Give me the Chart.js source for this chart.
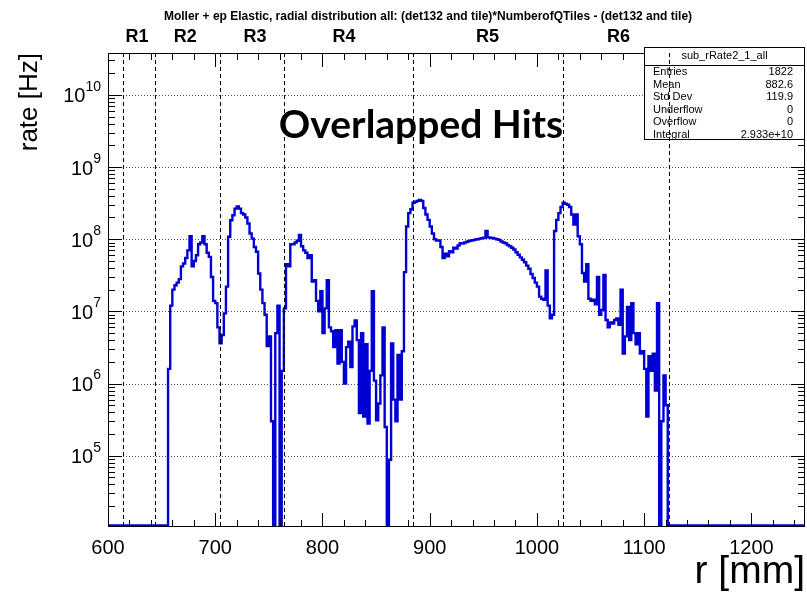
<!DOCTYPE html>
<html>
<head>
<meta charset="utf-8">
<script src="https://cdn.jsdelivr.net/npm/chart.js@4.4.1/dist/chart.umd.min.js"></script>
<style>
  html, body { margin: 0; padding: 0; background: #fff; }
</style>
</head>
<body>
<canvas id="c" width="807" height="592"></canvas>
<script>
// radial rate histogram, 2 mm bins, first filled bin starts at 656 mm
const R_MIN = 600, R_MAX = 1250;
const FIRST_BIN = 656, BIN_W = 2;
const Y_MIN = 1.03e4, Y_MAX = 3.8e10;
const ZERO_LEVEL = 1.08e4; // empty bins sit on the bottom of the frame

// bin contents [Hz], one array per ring
const rateR2 = [1.6e6, 1.2e7, 2.0e7, 2.3e7, 2.5e7, 2.8e7, 4.2e7, 4.6e7, 5.5e7, 7.0e7,
  1.1e8, 4.2e7, 5.0e7, 6.0e7, 8.5e7, 9.0e7, 1.1e8, 8.5e7, 6.5e7, 5.7e7,
  3.0e7, 1.4e7, 1.3e7, 6.0e6];
const rateR3 = [3.6e6, 4.7e6, 9.4e6, 2.2e7, 1.08e8, 1.83e8, 2.15e8, 2.65e8, 2.85e8, 2.65e8,
  2.3e8, 2.2e8, 2.0e8, 1.65e8, 1.2e8, 1.02e8, 7.8e7, 6.7e7, 3.35e7, 2.0e7,
  1.3e7, 9.0e6, 3.3e6, 4.5e6, 3.0e5, 0, 5.0e6, 1.2e7, 0, 1.5e6];
const rateR4 = [1.1e7, 4.5e7, 4.2e7, 8.5e7, 8.5e7, 9.0e7, 9.5e7, 1.15e8, 8.0e7, 7.0e7,
  6.5e7, 5.5e7, 6.0e7, 2.6e7, 2.7e7, 1.4e7, 1.0e7, 1.9e7, 5.0e6, 1.1e7,
  2.7e7, 6.0e6, 5.3e6, 3.2e6, 5.5e6, 1.9e6, 5.5e6, 2.0e6, 1.0e6, 3.2e6,
  3.8e6, 1.7e6, 6.2e6, 7.5e6, 4.0e6, 3.9e5, 5.0e6, 3.5e5, 3.5e6, 2.8e5,
  1.5e6, 1.9e7, 1.1e6, 3.1e5, 5.3e5, 1.3e6, 6.0e6, 2.5e5, 0, 8.8e4,
  3.6e6, 6.0e5, 3.0e5, 2.5e6, 6.0e5, 2.8e6, 3.5e7, 1.5e8, 2.3e8, 2.6e8];
const rateR5 = [3.2e8, 3.3e8, 3.4e8, 3.5e8, 3.4e8, 2.7e8, 2.2e8, 1.85e8, 1.5e8, 1.2e8,
  1.0e8, 9.6e7, 9.6e7, 7.8e7, 5.5e7, 6.3e7, 5.8e7, 6.8e7, 6.6e7, 7.6e7,
  7.4e7, 8.2e7, 8.8e7, 8.7e7, 9.0e7, 9.2e7, 9.4e7, 9.6e7, 9.7e7, 9.9e7,
  1.0e8, 1.02e8, 1.03e8, 1.05e8, 1.3e8, 1.06e8, 1.05e8, 1.04e8, 1.02e8, 1.0e8,
  9.8e7, 9.3e7, 9.0e7, 8.8e7, 8.3e7, 8.0e7, 7.6e7, 7.2e7, 6.6e7, 6.1e7,
  5.6e7, 5.2e7, 4.8e7, 4.3e7, 3.9e7, 3.3e7, 2.9e7, 2.5e7, 2.2e7, 1.6e7,
  1.5e7, 1.45e7, 3.7e7, 1.2e7, 8.0e6, 9.0e6, 1.3e8, 1.85e8, 2.3e8, 2.8e8];
const rateR6 = [3.2e8, 3.1e8, 3.0e8, 2.8e8, 2.2e8, 1.6e8, 2.2e8, 1.1e8, 8.5e7, 3.4e7,
  2.6e7, 4.5e7, 1.5e7, 1.4e7, 1.45e7, 1.25e7, 3.0e7, 9.0e6, 1.05e7, 3.2e7,
  7.6e6, 6.0e6, 7.0e6, 6.8e6, 7.6e6, 8.0e6, 6.5e6, 2.0e7, 2.6e6, 4.5e6,
  1.15e7, 4.0e6, 1.3e7, 5.0e6, 3.5e6, 5.0e6, 2.6e6, 2.8e6, 1.6e6, 3.5e5,
  2.4e6, 1.5e6, 2.6e6, 8.0e5, 1.3e7, 0, 3.0e5, 1.3e6, 5.0e5];

// ring boundaries (dashed lines) and ring labels, in mm
const ringEdges = [614, 644, 704, 764, 884, 1024, 1123];
const ringNames = ['R1', 'R2', 'R3', 'R4', 'R5', 'R6'];
const ringNamePos = [627, 672, 737, 820, 954, 1076];

const yPowers = [5, 6, 7, 8, 9, 10];
const statsTitle = 'sub_rRate2_1_all';
const statsNames = ['Entries', 'Mean', 'Std Dev', 'Underflow', 'Overflow', 'Integral'];
const statsValues = ['1822', '882.6', '119.9', '0', '0', '2.933e+10'];

const titleText = 'Moller + ep Elastic, radial distribution all: (det132 and tile)*NumberofQTiles - (det132 and tile)';

// build the step outline of the histogram
const allRates = [...rateR2, ...rateR3, ...rateR4, ...rateR5, ...rateR6];
const histPoints = [{x: R_MIN, y: ZERO_LEVEL}, {x: FIRST_BIN, y: ZERO_LEVEL}];
allRates.forEach((v, i) => {
  const lo = FIRST_BIN + i * BIN_W;
  const y = v > 0 ? v : Y_MIN;
  histPoints.push({x: lo, y: y}, {x: lo + BIN_W, y: y});
});
const lastEdge = FIRST_BIN + allRates.length * BIN_W;
histPoints.push({x: lastEdge, y: Y_MIN}, {x: lastEdge, y: ZERO_LEVEL}, {x: R_MAX, y: ZERO_LEVEL});

const FONT = '"Liberation Sans", Arial, Helvetica, sans-serif';

const rootStyle = {
  id: 'rootStyle',
  beforeDatasetsDraw(chart) {
    const {ctx, chartArea: a, scales: {y}} = chart;
    ctx.save();
    ctx.strokeStyle = 'rgba(60,60,60,0.9)';
    ctx.lineWidth = 1;
    ctx.setLineDash([1, 2]);
    yPowers.forEach(p => {
      const py = Math.round(y.getPixelForValue(Math.pow(10, p))) + 0.5;
      ctx.beginPath();
      ctx.moveTo(a.left, py);
      ctx.lineTo(a.right, py);
      ctx.stroke();
    });
    ctx.restore();
  },
  afterDatasetsDraw(chart) {
    const {ctx, chartArea: a, scales: {x, y}} = chart;
    ctx.save();

    // frame
    ctx.strokeStyle = '#000';
    ctx.lineWidth = 1;
    ctx.strokeRect(a.left + 0.5, a.top + 0.5, a.right - a.left - 1, a.bottom - a.top - 1);

    // x ticks, bottom and top
    ctx.beginPath();
    for (let r = R_MIN; r <= R_MAX; r += 20) {
      const px = Math.round(x.getPixelForValue(r)) + 0.5;
      const len = r % 100 === 0 ? 14 : 7;
      ctx.moveTo(px, a.bottom);
      ctx.lineTo(px, a.bottom - len);
      ctx.moveTo(px, a.top);
      ctx.lineTo(px, a.top + len);
    }
    // y ticks, left and right
    for (let p = 4; p <= 10; p++) {
      for (let m = 1; m <= 9; m++) {
        const v = m * Math.pow(10, p);
        if (v < Y_MIN || v > Y_MAX) continue;
        const py = Math.round(y.getPixelForValue(v)) + 0.5;
        const len = m === 1 ? 14 : 7;
        ctx.moveTo(a.left, py);
        ctx.lineTo(a.left + len, py);
        ctx.moveTo(a.right, py);
        ctx.lineTo(a.right - len, py);
      }
    }
    ctx.stroke();

    // y tick labels 10^n
    ctx.fillStyle = '#000';
    yPowers.forEach(p => {
      const py = y.getPixelForValue(Math.pow(10, p));
      const ex = String(p);
      ctx.font = '14px ' + FONT;
      const ew = ctx.measureText(ex).width;
      ctx.textAlign = 'left';
      ctx.textBaseline = 'middle';
      ctx.fillText(ex, 101 - ew, py - 8);
      ctx.font = '20px ' + FONT;
      ctx.textAlign = 'right';
      ctx.fillText('10', 101 - ew, py + 2);
    });

    // stats box
    const bx = 644, by = 47, bw = 161, bh = 93;
    ctx.fillStyle = '#fff';
    ctx.fillRect(bx, by, bw, bh);
    ctx.strokeStyle = '#000';
    ctx.lineWidth = 1;
    ctx.strokeRect(bx + 0.5, by + 0.5, bw - 1, bh - 1);
    ctx.beginPath();
    ctx.moveTo(bx, by + 18.5);
    ctx.lineTo(bx + bw, by + 18.5);
    ctx.stroke();
    ctx.fillStyle = '#000';
    ctx.font = '11px ' + FONT;
    ctx.textBaseline = 'middle';
    ctx.textAlign = 'center';
    ctx.fillText(statsTitle, bx + bw / 2, by + 9);
    statsNames.forEach((n, i) => {
      const ty = by + 25 + i * 12.5;
      ctx.textAlign = 'left';
      ctx.fillText(n, bx + 9, ty);
      ctx.textAlign = 'right';
      ctx.fillText(statsValues[i], bx + bw - 12, ty);
    });

    // ring boundaries
    ctx.strokeStyle = '#000';
    ctx.setLineDash([4, 3]);
    ringEdges.forEach(r => {
      const px = Math.round(x.getPixelForValue(r)) + 0.5;
      ctx.beginPath();
      ctx.moveTo(px, a.top);
      ctx.lineTo(px, a.bottom);
      ctx.stroke();
    });
    ctx.setLineDash([]);

    // ring names
    ctx.font = 'bold 18px ' + FONT;
    ctx.textAlign = 'center';
    ctx.textBaseline = 'middle';
    ringNames.forEach((n, i) => {
      ctx.fillText(n, x.getPixelForValue(ringNamePos[i]), 37);
    });

    // annotation
    ctx.font = 'bold 39px Lato, "Open Sans", sans-serif';
    ctx.textAlign = 'center';
    ctx.fillText('Overlapped Hits', 421, 125);

    // title, squeezed to the original width
    ctx.font = 'bold 12px ' + FONT;
    const tw = ctx.measureText(titleText).width;
    const target = 559;
    ctx.translate(428, 17);
    ctx.scale(Math.min(1, target / tw), 1);
    ctx.textAlign = 'center';
    ctx.fillText(titleText, 0, 0);
    ctx.restore();
  }
};

new Chart(document.getElementById('c'), {
  type: 'line',
  data: {
    datasets: [{
      data: histPoints,
      borderColor: '#0000d2',
      borderWidth: 2.4,
      pointRadius: 0,
      fill: false,
      tension: 0
    }]
  },
  options: {
    responsive: false,
    animation: false,
    devicePixelRatio: 1,
    layout: {padding: {top: 53, right: 2, left: 0, bottom: 0}},
    plugins: {legend: {display: false}, tooltip: {enabled: false}},
    scales: {
      x: {
        type: 'linear',
        min: R_MIN,
        max: R_MAX,
        grid: {display: false, drawTicks: false},
        border: {display: false},
        ticks: {
          stepSize: 100, includeBounds: false, padding: 9, color: '#000', maxRotation: 0, autoSkip: false,
          font: {size: 20, family: FONT},
          callback: v => (v % 100 === 0 ? String(v) : '')
        },
        title: {display: true, text: 'r [mm]', align: 'end', color: '#000', font: {size: 39, family: FONT, lineHeight: 1}, padding: {top: 0, bottom: 0}},
        afterFit(scale) { scale.height = 65; scale.paddingRight = 0; }
      },
      y: {
        type: 'logarithmic',
        min: Y_MIN,
        max: Y_MAX,
        grid: {display: false, drawTicks: false},
        border: {display: false},
        ticks: {display: false},
        title: {display: true, text: 'rate [Hz]', align: 'end', color: '#000', font: {size: 26, family: FONT}, padding: {top: 14, bottom: 0}},
        afterFit(scale) { scale.width = 108; }
      }
    }
  },
  plugins: [rootStyle]
});
</script>
</body>
</html>
